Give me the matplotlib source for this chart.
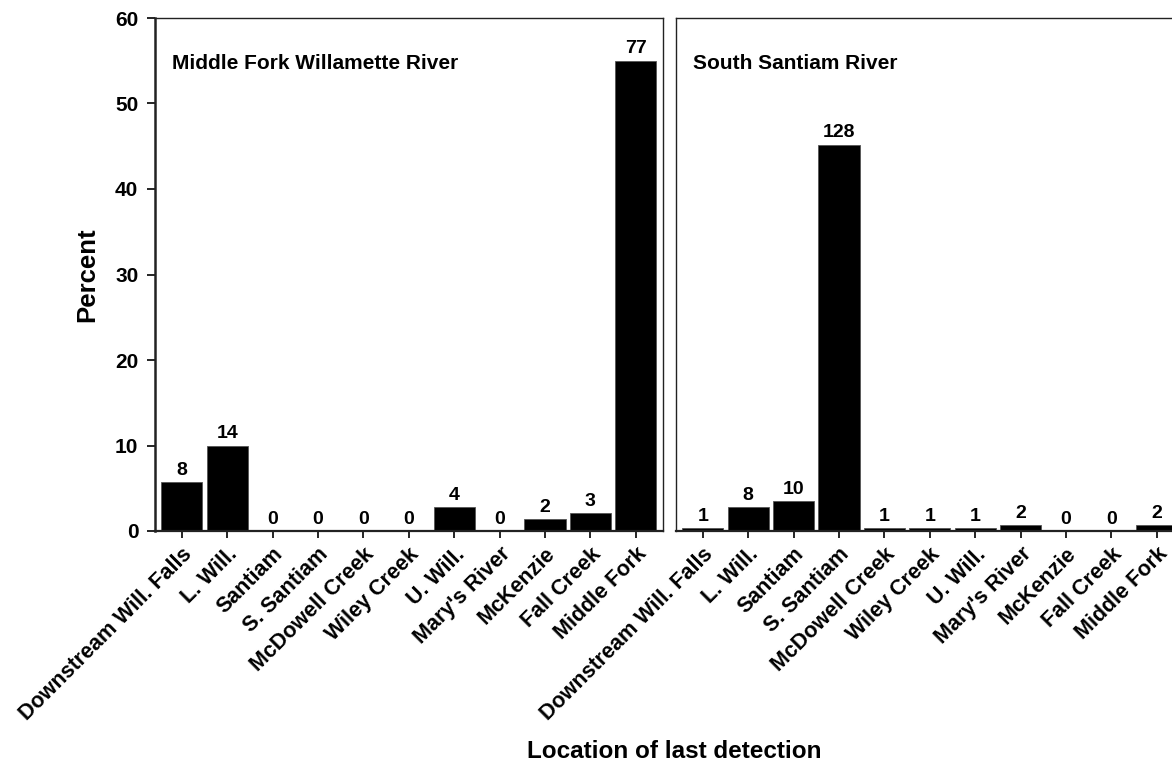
import matplotlib
matplotlib.use("Agg")
import matplotlib.pyplot as plt
import numpy as np

plt.rcParams['font.family'] = ['Liberation Sans', 'DejaVu Sans']
plt.rcParams['font.weight'] = 'bold'

categories = ["Downstream Will. Falls", "L. Will.", "Santiam", "S. Santiam",
              "McDowell Creek", "Wiley Creek", "U. Will.", "Mary's River",
              "McKenzie", "Fall Creek", "Middle Fork"]

mf_percent = [5.7, 10.0, 0, 0, 0, 0, 2.8, 0, 1.4, 2.1, 55.0]
mf_counts = [8, 14, 0, 0, 0, 0, 4, 0, 2, 3, 77]

ss_percent = [0.35, 2.8, 3.5, 45.2, 0.35, 0.35, 0.35, 0.7, 0, 0, 0.7]
ss_counts = [1, 8, 10, 128, 1, 1, 1, 2, 0, 0, 2]

panel_titles = ["Middle Fork Willamette River", "South Santiam River"]
yticks = [0, 10, 20, 30, 40, 50, 60]

W, H = 1172, 763
fig = plt.figure(figsize=(W / 100, H / 100), dpi=100)

ax_w = 508 / W
ax_b = 1 - 531 / H
ax_h = (531 - 18) / H
ax1 = fig.add_axes([155 / W, ax_b, ax_w, ax_h])
ax2 = fig.add_axes([676 / W, ax_b, ax_w, ax_h])

x = np.arange(len(categories))
for ax, vals, counts, title in [(ax1, mf_percent, mf_counts, panel_titles[0]),
                                (ax2, ss_percent, ss_counts, panel_titles[1])]:
    ax.bar(x, vals, width=0.91, color='black', edgecolor='#555555', linewidth=0.6)
    for xi, v, c in zip(x, vals, counts):
        ax.annotate(str(c), (xi, v), xytext=(0, 2.5), textcoords='offset points',
                    ha='center', va='bottom', fontsize=14, fontweight='bold')
    ax.set_xlim(-0.59, 10.6)
    ax.set_ylim(0, 60)
    ax.set_xticks(x)
    ax.set_xticklabels(categories, rotation=45, ha='right', va='top',
                       rotation_mode='anchor', fontsize=15.5, fontweight='bold')
    ax.tick_params(axis='x', direction='out', length=5, width=1.2, pad=4)
    ax.text(0.0335, 0.9006, title, transform=ax.transAxes, ha='left', va='baseline',
            fontsize=15, fontweight='bold')
    for s in ax.spines.values():
        s.set_linewidth(1.0)
        s.set_color('#222222')
    ax.spines['bottom'].set_linewidth(1.6)

ax1.set_yticks(yticks)
ax1.set_yticklabels([str(t) for t in yticks], fontsize=15, fontweight='bold')
ax1.tick_params(axis='y', direction='out', length=6, width=1.2, pad=6)
ax1.spines['left'].set_linewidth(1.8)
ax2.set_yticks([])

fig.text(87.5 / W, 1 - 274.5 / H, "Percent", rotation=90, ha='center', va='center',
         fontsize=18.5, fontweight='bold')
fig.text(674 / W, 1 - 758 / H, "Location of last detection", ha='center', va='baseline',
         fontsize=17.5, fontweight='bold')

fig.savefig("out.png", dpi=100)
